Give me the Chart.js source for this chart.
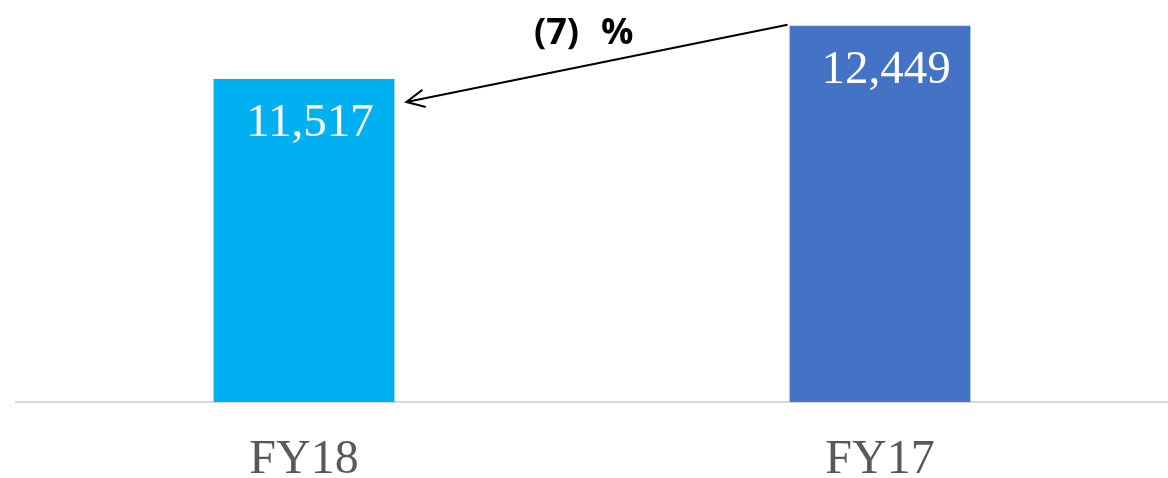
<!DOCTYPE html>
<html>
<head>
<meta charset="utf-8">
<script src="https://cdn.jsdelivr.net/npm/chart.js@4.4.1/dist/chart.umd.min.js"></script>
<style>
  html, body { margin: 0; padding: 0; background: #ffffff; }
  #wrap { width: 1168px; height: 478px; position: relative; }
</style>
</head>
<body>
<div id="wrap"><canvas id="salesChart"></canvas></div>
<script>
// 売上比較 FY18 vs FY17
const categories = ['FY18', 'FY17'];
const values = [11517, 12449];
const barColors = ['#00B0F0', '#4472C4'];
const changeValue = '(7)';
const changeUnit = '%';

// 棒の上部に数値、FY17→FY18 の矢印と増減率を描く
const annotatePlugin = {
  id: 'annotate',
  afterDatasetsDraw(chart) {
    const { ctx } = chart;
    const bars = chart.getDatasetMeta(0).data;

    ctx.save();
    ctx.fillStyle = '#ffffff';
    ctx.font = '47px "Liberation Serif", "Times New Roman", serif';
    ctx.textAlign = 'center';
    ctx.textBaseline = 'alphabetic';
    bars.forEach((bar, i) => {
      ctx.fillText(values[i].toLocaleString('en-US'), bar.x + 6, bar.y + 57);
    });

    // 矢印: FY17 棒の左上から FY18 棒の右側へ
    const from = bars[1];
    const to = bars[0];
    const x1 = from.x - from.width / 2 - 2;
    const y1 = from.y - 1;
    const x2 = to.x + to.width / 2 + 12;
    const y2 = to.y + 23;
    ctx.strokeStyle = '#000000';
    ctx.lineWidth = 2;
    ctx.beginPath();
    ctx.moveTo(x1, y1);
    ctx.lineTo(x2, y2);
    ctx.stroke();

    const ang = Math.atan2(y1 - y2, x1 - x2);
    const len = 20;
    const spread = 0.45;
    ctx.beginPath();
    ctx.moveTo(x2 + len * Math.cos(ang - spread), y2 + len * Math.sin(ang - spread));
    ctx.lineTo(x2, y2);
    ctx.lineTo(x2 + len * Math.cos(ang + spread), y2 + len * Math.sin(ang + spread));
    ctx.stroke();

    ctx.fillStyle = '#000000';
    ctx.font = 'bold 36px "Open Sans", "Liberation Sans", sans-serif';
    ctx.textAlign = 'left';
    ctx.fillText(changeValue, 534, 44);
    ctx.fillText(changeUnit, 601, 44);
    ctx.restore();
  }
};

new Chart(document.getElementById('salesChart').getContext('2d'), {
  type: 'bar',
  data: {
    labels: categories,
    datasets: [{
      data: values,
      backgroundColor: barColors,
      borderWidth: 0,
      barPercentage: 0.314,
      categoryPercentage: 1,
    }],
  },
  options: {
    responsive: true,
    maintainAspectRatio: false,
    animation: false,
    layout: { padding: { left: 16, right: -3, top: 0, bottom: 0 } },
    plugins: {
      legend: { display: false },
      tooltip: { enabled: false },
    },
    scales: {
      x: {
        grid: { display: false },
        border: { display: true, color: '#d9d9d9', width: 2 },
        ticks: {
          color: '#595959',
          padding: 26,
          font: { family: '"Liberation Serif", "Times New Roman", serif', size: 48, lineHeight: 1 },
        },
        afterFit: scale => { scale.height = 76; },
      },
      y: {
        display: false,
        min: 5860,
        max: 12900,
      },
    },
  },
  plugins: [annotatePlugin],
});
</script>
</body>
</html>
